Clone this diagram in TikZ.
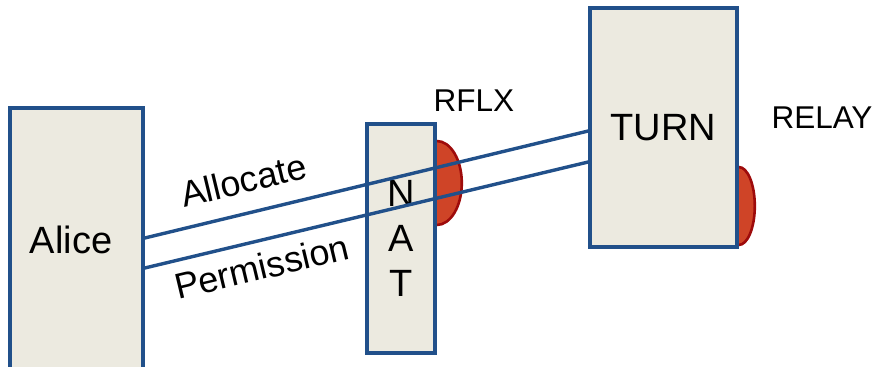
\documentclass[tikz,border=0pt]{standalone}
\usepackage{fontspec}
\setmainfont{Liberation Sans}
\usetikzlibrary{positioning,backgrounds}
\definecolor{boxfill}{HTML}{ECEAE0}
\definecolor{boxline}{HTML}{21508A}
\definecolor{relayfill}{HTML}{CF4427}
\definecolor{relayline}{HTML}{9E0B0B}

\begin{document}
\begin{tikzpicture}[x=1pt, y=-1pt,
    host/.style={rectangle, draw=boxline, fill=boxfill, line width=3.6pt, inner sep=0pt, font=\fontsize{38}{45}\selectfont},
    msg/.style={draw=boxline, line width=3.4pt},
    port/.style={fill=relayfill, draw=relayline, line width=2.6pt},
    tag/.style={font=\fontsize{31.5}{37}\selectfont, inner sep=0pt},
    lbl/.style={font=\fontsize{36}{42}\selectfont, sloped, inner sep=0pt}
]
\useasboundingbox (0,0) rectangle (879,367);

% Boxes
\node[host, minimum width=133pt, minimum height=264pt, text width=93pt, align=left] (alice) at (76.5,240) {Alice};
\node[host, minimum width=68pt, minimum height=229pt, align=center] (nat) at (401,238.5) {N\\A\\T};
\node[host, minimum width=147pt, minimum height=239pt] (turn) at (663.5,127.5) {TURN};

% Relay ports
\begin{pgfonlayer}{background}
\draw[port] ([yshift=97.5pt]nat.east) arc[start angle=90, end angle=-90, x radius=25pt, y radius=42pt];
\draw[port] ([yshift=-39.5pt]turn.east) arc[start angle=90, end angle=-90, x radius=16pt, y radius=39pt];
\end{pgfonlayer}

% Port labels
\node[tag] (rflx) at (474,101) {RFLX};
\node[tag] (relay) at (822,118) {RELAY};

% Messages
\draw[msg] ([yshift=2pt]alice.east) -- node[lbl, above=18pt, pos=0.24] {Allocate} ([yshift=-3.5pt]turn.west);
\draw[msg] ([yshift=-28pt]alice.east) -- node[lbl, below=11pt, pos=0.25] {Permission} ([yshift=-34.5pt]turn.west);

\end{tikzpicture}
\end{document}
